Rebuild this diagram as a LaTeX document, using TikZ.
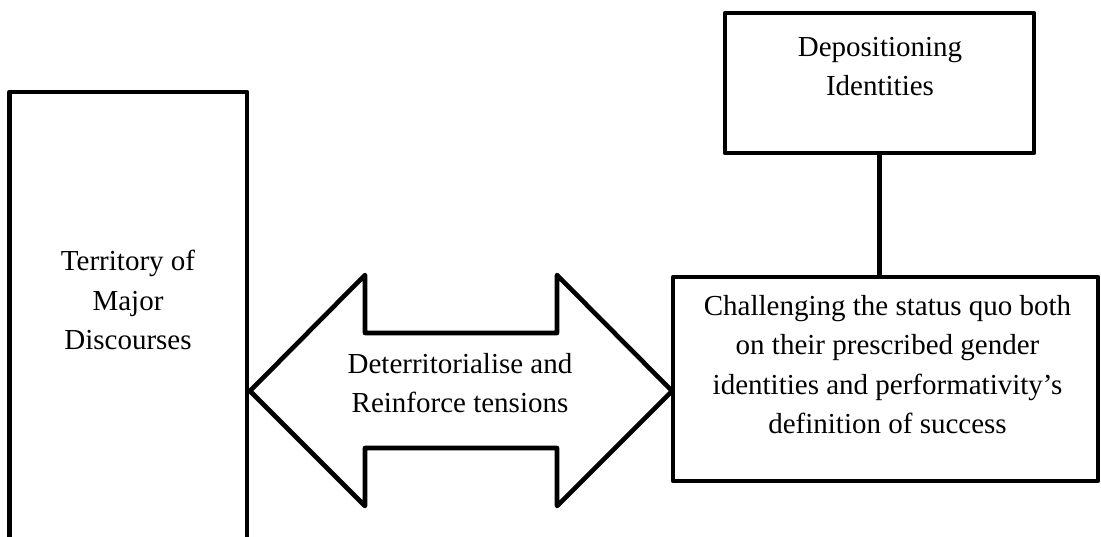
\documentclass[tikz,border=0pt]{standalone}
\usepackage{fontspec}
\setmainfont{Liberation Serif}
\begin{document}
\begin{tikzpicture}[x=1pt,y=-1pt,
  outline/.style={draw=black,line width=4.6pt,line join=round},
  box/.style={outline,rectangle,inner sep=0pt},
  label/.style={anchor=north,align=center,inner sep=0pt,
    font=\fontsize{29}{39.5}\selectfont}]
  \clip (0,0) rectangle (1101,537);

  % boxes
  \node[box,minimum width=237.5pt,minimum height=470pt] (territory) at (128.25,327) {};
  \node[box,minimum width=309pt,minimum height=140pt] (depos) at (879.5,83) {};
  \node[box,minimum width=425pt,minimum height=204pt] (challenge) at (885.5,379) {};

  % double-headed block arrow between the territory and the challenge
  \draw[outline] (250,391) coordinate (tipL) -- (365,275) -- (365,333) -- (557,333)
    -- (557,275) -- (672,391) coordinate (tipR) -- (557,506) -- (557,448)
    -- (365,448) -- (365,506) -- cycle;

  % connector from the upper box down to the challenge box
  \draw[outline] (depos.south) -- (depos.south |- challenge.north);

  % texts
  \node[label] (tterr) at (128,250) {Territory of\\Major\\Discourses};
  \node[label] (tdepos) at (880,37) {Depositioning\\Identities};
  \node[label] (tarrow) at (460,353) {Deterritorialise and\\Reinforce tensions};
  \node[label] (tchal) at (887.5,295) {Challenging the status quo both\\on their prescribed gender\\identities and performativity’s\\definition of success};
\end{tikzpicture}
\end{document}
